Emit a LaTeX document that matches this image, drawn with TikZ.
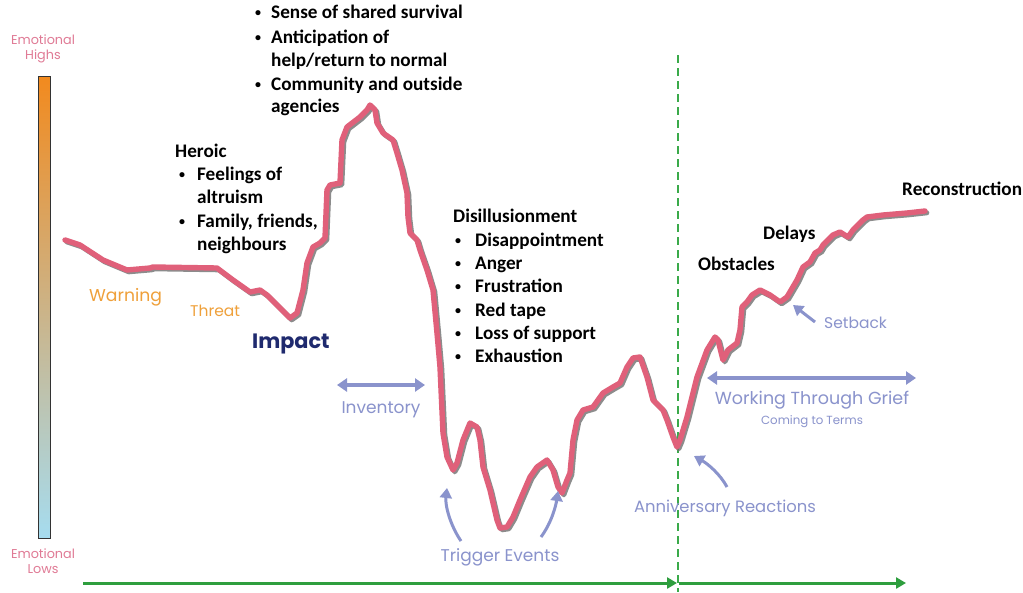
\documentclass[tikz,border=0pt]{standalone}
\usepackage{fontspec}
\setmainfont{Carlito}
\newfontfamily\geo{Poppins}
\usetikzlibrary{arrows.meta}
\definecolor{curvepink}{HTML}{E0607A}
\definecolor{curveshadow}{HTML}{707070}
\definecolor{lav}{HTML}{8A93CC}
\definecolor{warnorange}{HTML}{EFA03A}
\definecolor{navy}{HTML}{1F2A6E}
\definecolor{emopink}{HTML}{E07A95}
\definecolor{timegreen}{HTML}{2E9E3E}
\definecolor{dashgreen}{HTML}{3AAA4A}
\definecolor{barorange}{HTML}{F28A1E}
\definecolor{barblue}{HTML}{A6DCEF}
\tikzset{
  blk/.style={font=\fontsize{19.2}{22}\selectfont\bfseries, anchor=west, inner sep=0pt, text height=13pt, text depth=4pt},
  bul/.style={font=\fontsize{12}{14}\selectfont\bfseries, anchor=center, inner sep=0pt},
  lavtext/.style={font=\geo\fontsize{17}{19}\selectfont, text=lav, inner sep=0pt},
  lavarrow/.style={draw=lav, line width=3pt, -{Triangle[width=12pt,length=10pt]}},
  lavdouble/.style={draw=lav, line width=3.2pt, {Triangle[width=13pt,length=10pt]}-{Triangle[width=13pt,length=10pt]}},
  greenarrow/.style={draw=timegreen, line width=3pt, -{Triangle[width=11pt,length=10pt]}},
  emotext/.style={font=\geo\fontsize{12.8}{17}\selectfont, text=emopink, align=center, inner sep=0pt},
  pics/griefcurve/.style={code={
    \draw[#1] (65,240) -- (80,245) -- (103,260) -- (127,270) -- (150,268) -- (153,267) -- (217,268) -- (233,280) -- (250,292) -- (260,290) -- (267,295) -- (290,318) -- (297,313) -- (303,290) -- (307,263) -- (313,247) -- (320,243) -- (325,238) -- (327,190) -- (330,185) -- (340,183) -- (342,140) -- (347,127) -- (360,117) -- (367,110) -- (370,105) -- (375,110) -- (377,123) -- (383,133) -- (393,140) -- (397,153) -- (402,170) -- (407,193) -- (408,217) -- (410,233) -- (417,240) -- (420,250) -- (427,270) -- (433,290) -- (437,333) -- (440,367) -- (443,433) -- (447,457) -- (453,470) -- (457,463) -- (463,440) -- (470,423) -- (477,427) -- (480,440) -- (483,467) -- (490,490) -- (497,520) -- (500,528) -- (507,527) -- (513,517) -- (520,500) -- (530,477) -- (537,467) -- (547,460) -- (553,470) -- (558,487) -- (562,493) -- (567,480) -- (570,473) -- (573,440) -- (577,420) -- (583,410) -- (593,407) -- (603,393) -- (613,387) -- (620,383) -- (627,367) -- (633,358) -- (640,357) -- (647,377) -- (653,400) -- (663,410) -- (667,420) -- (673,437) -- (677,447) -- (680,440) -- (687,417) -- (697,377) -- (707,350) -- (715,337) -- (718,340) -- (723,360) -- (728,350) -- (737,343) -- (740,330) -- (742,307) -- (747,302) -- (752,295) -- (760,290) -- (770,295) -- (780,302) -- (787,297) -- (797,280) -- (803,267) -- (810,262) -- (815,253) -- (820,250) -- (823,245) -- (833,235) -- (840,232) -- (848,237) -- (853,230) -- (863,220) -- (867,217) -- (883,215) -- (907,213) -- (925,211);
  }},
  shadowline/.style={draw=curveshadow, line width=5pt, line join=round, line cap=round, opacity=0.8},
  pinkline/.style={draw=curvepink, line width=5.4pt, line join=round, line cap=round}
}
\begin{document}
\begin{tikzpicture}[x=1pt,y=-1pt]
\useasboundingbox[fill=white] (0,0) rectangle (1023,592);

% emotional scale bar
\shade[top color=barorange, bottom color=barblue] (38,76) rectangle (50,538);
\draw[black!80, line width=0.8pt] (38,76) rectangle (50,538);
\node[emotext] (highs) at (43,49) {Emotional\\[-2pt]Highs};
\node[emotext] (lows) at (43,561) {Emotional\\[-2pt]Lows};

% time axis
\coordinate (t0) at (83,583);
\coordinate (t1) at (677,583);
\coordinate (t2) at (679,583);
\coordinate (t3) at (906,583);
\draw[greenarrow] (t0) -- (t1);
\draw[greenarrow] (t2) -- (t3);
\coordinate (d0) at (678,55);
\coordinate (d1) at (678,592);
\draw[dashgreen, line width=1.8pt, dash pattern=on 8pt off 5pt] (d0) -- (d1);

% curve
\pic at (1.8,1.8) {griefcurve={shadowline}};
\pic at (0,0) {griefcurve={pinkline}};

% top bullets
\node[bul] (b1) at (258,14) {•};
\node[blk] (s1) at (271,14) {Sense of shared survival};
\node[bul] (b2) at (258,39) {•};
\node[blk] (s2) at (271,39) {Anticipation of};
\node[blk] (s3) at (271,62) {help/return to normal};
\node[bul] (b4) at (258,86) {•};
\node[blk] (s4) at (271,86) {Community and outside};
\node[blk] (s5) at (271,108) {agencies};

% heroic
\node[blk] (heroic) at (175,153) {Heroic};
\node[bul] (hb1) at (182,176) {•};
\node[blk] (h1) at (197,176) {Feelings of};
\node[blk] (h2) at (197,199) {altruism};
\node[bul] (hb3) at (182,223) {•};
\node[blk] (h3) at (197,223) {Family, friends,};
\node[blk] (h4) at (197,246) {neighbours};

% disillusionment
\node[blk] (dis) at (453,218) {Disillusionment};
\node[bul] (db1) at (458,242) {•};
\node[blk] (d1t) at (475,242) {Disappointment};
\node[bul] (db2) at (458,265) {•};
\node[blk] (d2t) at (475,265) {Anger};
\node[bul] (db3) at (458,288) {•};
\node[blk] (d3t) at (475,288) {Frustration};
\node[bul] (db4) at (458,312) {•};
\node[blk] (d4t) at (475,312) {Red tape};
\node[bul] (db5) at (458,335) {•};
\node[blk] (d5t) at (475,335) {Loss of support};
\node[bul] (db6) at (458,358) {•};
\node[blk] (d6t) at (475,358) {Exhaustion};

% recovery labels
\node[blk] (recon) at (902,191) {Reconstruction};
\node[blk] (delays) at (763,235) {Delays};
\node[blk] (obst) at (698,266) {Obstacles};

% phase labels
\node[font=\geo\fontsize{17.2}{19}\selectfont, text=warnorange, anchor=west, inner sep=0pt] (warning) at (89,297) {Warning};
\node[font=\geo\fontsize{15.5}{18}\selectfont, text=warnorange, anchor=west, inner sep=0pt] (threat) at (190,311) {Threat};
\node[font=\geo\bfseries\fontsize{20.8}{22}\selectfont, text=navy, anchor=west, inner sep=0pt] (impact) at (252,344) {Impact};

% inventory
\node[lavtext] (inventory) at (381,410) {Inventory};
\coordinate (inv0) at (337,385);
\coordinate (inv1) at (425,385);
\draw[lavdouble] (inv0) -- (inv1);

% trigger events
\node[lavtext] (trigger) at (500,557) {Trigger Events};
\coordinate (tr0) at (461,541);
\coordinate (tr1) at (447,488);
\coordinate (tr2) at (541,537);
\coordinate (tr3) at (558,491);
\draw[lavarrow] (tr0) .. controls (450,525) and (445,505) .. (tr1);
\draw[lavarrow] (tr2) .. controls (552,522) and (556,505) .. (tr3);

% anniversary
\node[lavtext, font=\geo\fontsize{16.4}{18}\selectfont] (anniv) at (725,508) {Anniversary Reactions};
\coordinate (an0) at (727,487);
\coordinate (an1) at (694,456);
\draw[lavarrow] (an0) .. controls (720,474) and (708,464) .. (an1);

% working through grief
\node[lavtext, font=\geo\fontsize{17.5}{19}\selectfont] (grief) at (812,400) {Working Through Grief};
\node[lavtext, font=\geo\fontsize{11.8}{13}\selectfont] (terms) at (812,422) {Coming to Terms};
\coordinate (wg0) at (707,378);
\coordinate (wg1) at (916,378);
\draw[lavdouble] (wg0) -- (wg1);

% setback
\node[lavtext, font=\geo\fontsize{15.5}{18}\selectfont, anchor=west] (setback) at (824,323) {Setback};
\coordinate (sb0) at (815,322);
\coordinate (sb1) at (793,305);
\draw[lavarrow] (sb0) -- (sb1);
\end{tikzpicture}
\end{document}
